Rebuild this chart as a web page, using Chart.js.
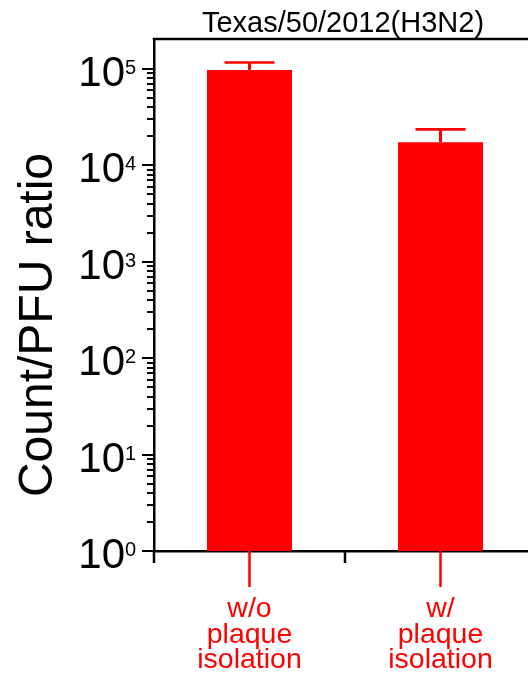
<!DOCTYPE html>
<html><head><meta charset="utf-8">
<script src="https://cdn.jsdelivr.net/npm/chart.js@4"></script>
<style>html,body{margin:0;padding:0;overflow:hidden;background:#fff;width:528px;height:675px}canvas{display:block}</style>
</head><body><canvas id="c" width="540" height="675"></canvas>
<script>
const categories = [['w/o','plaque','isolation'],['w/','plaque','isolation']];
const ratioMean = [98000, 17400];
const ratioUpper = [117000, 23700];
const decadeTicks = [1,10,100,1000,10000,100000];
const exponentLabels = ['0','1','2','3','4','5'];
const minorSteps = [2,3,4,5,6,7,8,9];
const chartTitle = 'Texas/50/2012(H3N2)';
const yAxisTitle = 'Count/PFU ratio';
const FONT = '"Liberation Sans", Arial, sans-serif';

const allTicks = [];
decadeTicks.forEach(d => { allTicks.push(d); if (d < 100000) minorSteps.forEach(m => allTicks.push(d*m)); });

const decor = {
  id: 'decor',
  afterDraw(chart) {
    const ctx = chart.ctx, ca = chart.chartArea;
    const xs = chart.scales.x, ys = chart.scales.y;
    ctx.save();
    ctx.strokeStyle = '#000';
    // top frame line
    ctx.lineWidth = 2.5;
    ctx.beginPath(); ctx.moveTo(ca.left - 1.25, ca.top); ctx.lineTo(chart.width, ca.top); ctx.stroke();
    // y ticks
    ctx.lineWidth = 2;
    ys.ticks.forEach(t => {
      const py = Math.round(ys.getPixelForValue(t.value)) + 0.0;
      const major = decadeTicks.includes(t.value);
      const len = major ? 12 : 7;
      ctx.beginPath(); ctx.moveTo(ca.left - len, py); ctx.lineTo(ca.left, py); ctx.stroke();
    });
    // y labels
    ctx.fillStyle = '#000';
    decadeTicks.forEach((d, i) => {
      const py = ys.getPixelForValue(d);
      ctx.font = '42px ' + FONT;
      ctx.textAlign = 'right'; ctx.textBaseline = 'alphabetic';
      ctx.fillText('10', 125, py + 17);
      ctx.font = '20px ' + FONT;
      ctx.textAlign = 'left';
      ctx.fillText(exponentLabels[i], 125, py + 5);
    });
    // x ticks
    const step = xs.getPixelForValue(1) - xs.getPixelForValue(0);
    ctx.lineWidth = 2.5;
    for (let i = 0; i <= categories.length; i++) {
      const bx = xs.getPixelForValue(0) - step/2 + i*step;
      ctx.beginPath(); ctx.moveTo(bx, ca.bottom); ctx.lineTo(bx, ca.bottom + 12); ctx.stroke();
    }
    ctx.strokeStyle = '#ff0000';
    ctx.fillStyle = '#ff0000';
    categories.forEach((lab, i) => {
      const cx = xs.getPixelForValue(i);
      ctx.lineWidth = 2.5;
      ctx.beginPath(); ctx.moveTo(cx, ca.bottom); ctx.lineTo(cx, ca.bottom + 36); ctx.stroke();
      ctx.font = '28.5px ' + FONT;
      ctx.textAlign = 'center'; ctx.textBaseline = 'alphabetic';
      lab.forEach((line, j) => ctx.fillText(line, cx, ca.bottom + 66 + j*25.5));
      // error bar
      const yb = ys.getPixelForValue(ratioMean[i]);
      const yt = ys.getPixelForValue(ratioUpper[i]);
      ctx.lineWidth = 3;
      ctx.beginPath(); ctx.moveTo(cx, yb); ctx.lineTo(cx, yt); ctx.stroke();
      ctx.lineWidth = 2.7;
      ctx.beginPath(); ctx.moveTo(cx - 25, yt); ctx.lineTo(cx + 25, yt); ctx.stroke();
    });
    // title
    ctx.fillStyle = '#000';
    ctx.font = '29px ' + FONT;
    ctx.textAlign = 'center';
    ctx.fillText(chartTitle, 343, 32);
    // y axis title
    ctx.translate(52, 325);
    ctx.rotate(-Math.PI/2);
    ctx.font = '48px ' + FONT;
    ctx.fillText(yAxisTitle, 0, 0);
    ctx.restore();
  }
};

new Chart(document.getElementById('c'), {
  type: 'bar',
  data: {
    labels: categories,
    datasets: [{ data: ratioMean, backgroundColor: '#ff0000', borderWidth: 0, barPercentage: 0.445, categoryPercentage: 1 }]
  },
  options: {
    responsive: false,
    animation: false,
    devicePixelRatio: 1,
    layout: { padding: { left: 154, top: 39, bottom: 124, right: 4 } },
    plugins: { legend: { display: false }, tooltip: { enabled: false }, title: { display: false } },
    scales: {
      x: {
        type: 'category', offset: true,
        grid: { display: false, drawTicks: false },
        ticks: { display: false },
        border: { display: true, color: '#000', width: 2.5 }
      },
      y: {
        type: 'logarithmic', min: 1, max: 205000,
        afterBuildTicks: s => { s.ticks = allTicks.map(v => ({ value: v })); },
        grid: { display: false, drawTicks: false },
        ticks: { display: false },
        border: { display: true, color: '#000', width: 2.5 }
      }
    }
  },
  plugins: [decor]
});
</script></body></html>
